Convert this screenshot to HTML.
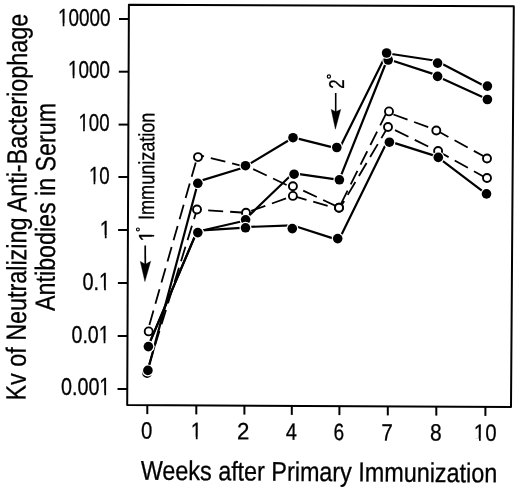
<!DOCTYPE html>
<html><head><meta charset="utf-8"><style>
html,body{margin:0;padding:0;background:#fff;}
body{width:520px;height:492px;overflow:hidden;}
svg{display:block;will-change:transform;}
text{font-family:"Liberation Sans", sans-serif;font-size:23.0px;fill:#000;stroke:#000;stroke-width:0.3px;stroke-linejoin:round;}
</style></head><body>
<svg width="520" height="492" viewBox="0 0 520 492">
<rect width="520" height="492" fill="#fff"/>
<g transform="translate(57.93,25.8) rotate(0) scale(0.8,1)"><text style="font-size:23.6px">10000</text><rect x="0.55" y="-2.36" width="5.39" height="3.96" fill="#fff"/><rect x="8.02" y="-2.36" width="5.20" height="3.96" fill="#fff"/></g>
<g transform="translate(67.98,78.0) rotate(0) scale(0.8011,1)"><text style="font-size:23.6px">1000</text><rect x="0.55" y="-2.36" width="5.39" height="3.96" fill="#fff"/><rect x="8.02" y="-2.36" width="5.20" height="3.96" fill="#fff"/></g>
<g transform="translate(78.41,131.0) rotate(0) scale(0.7904,1)"><text style="font-size:23.6px">100</text><rect x="0.53" y="-2.36" width="5.40" height="3.96" fill="#fff"/><rect x="8.02" y="-2.36" width="5.22" height="3.96" fill="#fff"/></g>
<g transform="translate(88.9,184.0) rotate(0) scale(0.7936,1)"><text style="font-size:23.6px">10</text><rect x="0.54" y="-2.36" width="5.40" height="3.96" fill="#fff"/><rect x="8.02" y="-2.36" width="5.21" height="3.96" fill="#fff"/></g>
<g transform="translate(99.78,237.5) rotate(0) scale(0.85,1)"><text style="font-size:23.6px">1</text><rect x="0.62" y="-2.36" width="5.31" height="3.96" fill="#fff"/><rect x="8.02" y="-2.36" width="5.13" height="3.96" fill="#fff"/></g>
<g transform="translate(82.52,290.0) rotate(0) scale(0.8439,1)"><text style="font-size:23.6px">0.1</text><rect x="20.29" y="-2.36" width="5.32" height="3.96" fill="#fff"/><rect x="27.70" y="-2.36" width="5.14" height="3.96" fill="#fff"/></g>
<g transform="translate(71.48,343.0) rotate(0) scale(0.8307,1)"><text style="font-size:23.6px">0.01</text><rect x="33.40" y="-2.36" width="5.34" height="3.96" fill="#fff"/><rect x="40.83" y="-2.36" width="5.16" height="3.96" fill="#fff"/></g>
<g transform="translate(60.93,395.4) rotate(0) scale(0.8372,1)"><text style="font-size:23.6px">0.001</text><rect x="46.54" y="-2.36" width="5.33" height="3.96" fill="#fff"/><rect x="53.95" y="-2.36" width="5.15" height="3.96" fill="#fff"/></g>
<g transform="translate(141.11,438.6) rotate(0.37) scale(0.8598,1)"><text style="font-size:23.6px">0</text></g>
<g transform="translate(190.78,439.0) rotate(0.37) scale(0.85,1)"><text style="font-size:23.6px">1</text><rect x="0.62" y="-2.36" width="5.31" height="3.96" fill="#fff"/><rect x="8.02" y="-2.36" width="5.13" height="3.96" fill="#fff"/></g>
<g transform="translate(237.08,439.3) rotate(0.37) scale(0.9394,1)"><text style="font-size:23.6px">2</text></g>
<g transform="translate(285.64,439.7) rotate(0.37) scale(0.8493,1)"><text style="font-size:23.6px">4</text></g>
<g transform="translate(333.53,440.1) rotate(0.37) scale(0.8081,1)"><text style="font-size:23.6px">6</text></g>
<g transform="translate(381.34,440.4) rotate(0.37) scale(0.8762,1)"><text style="font-size:23.6px">7</text></g>
<g transform="translate(429.99,440.6) rotate(0.37) scale(0.885,1)"><text style="font-size:23.6px">8</text></g>
<g transform="translate(473.84,440.8) rotate(0.37) scale(0.863,1)"><text style="font-size:23.6px">10</text><rect x="0.64" y="-2.36" width="5.30" height="3.96" fill="#fff"/><rect x="8.02" y="-2.36" width="5.11" height="3.96" fill="#fff"/></g>
<g transform="translate(154.1,241.43) rotate(-90) scale(0.85,1)"><text style="font-size:22.6px">1</text><rect x="0.55" y="-2.29" width="5.14" height="3.89" fill="#fff"/><rect x="7.68" y="-2.29" width="4.96" height="3.89" fill="#fff"/></g>
<g transform="translate(140.7,479.7) rotate(0.44) scale(0.859,1)"><text style="font-size:27.2px">Weeks after Primary Immunization</text></g>
<g transform="translate(25.6,400.48) rotate(-89.76) scale(0.8402,1)"><text style="font-size:27.8px">Kv of Neutralizing Anti-Bacteriophage</text></g>
<g transform="translate(54.7,310.9) rotate(-89.8) scale(0.836,1)"><text style="font-size:27.8px">Antibodies in Serum</text></g>
<g transform="translate(154.0,219.93) rotate(-89.76) scale(0.8132,1)"><text style="font-size:22.2px">Immunization</text></g>
<g transform="translate(343.9,88.69) rotate(-90) scale(0.79,1)"><text style="font-size:21.2px">2</text></g>
<polygon points="128.9,4.8 513.8,6.2 511.0,407.0 127.2,405.0" fill="none" stroke="#000" stroke-width="2.0" stroke-linejoin="round"/>
<line x1="119.0" y1="19.0" x2="128.8" y2="19.0" stroke="#000" stroke-width="2"/>
<line x1="118.8" y1="71.7" x2="128.6" y2="71.7" stroke="#000" stroke-width="2"/>
<line x1="118.6" y1="124.6" x2="128.4" y2="124.6" stroke="#000" stroke-width="2"/>
<line x1="118.4" y1="177.0" x2="128.2" y2="177.0" stroke="#000" stroke-width="2"/>
<line x1="118.1" y1="230.0" x2="127.9" y2="230.0" stroke="#000" stroke-width="2"/>
<line x1="117.9" y1="283.0" x2="127.7" y2="283.0" stroke="#000" stroke-width="2"/>
<line x1="117.7" y1="336.0" x2="127.5" y2="336.0" stroke="#000" stroke-width="2"/>
<line x1="117.5" y1="389.0" x2="127.3" y2="389.0" stroke="#000" stroke-width="2"/>
<line x1="147.3" y1="405.1" x2="147.3" y2="414.1" stroke="#000" stroke-width="2"/>
<line x1="196.3" y1="405.4" x2="196.3" y2="414.4" stroke="#000" stroke-width="2"/>
<line x1="244.4" y1="405.6" x2="244.4" y2="414.6" stroke="#000" stroke-width="2"/>
<line x1="291.8" y1="405.9" x2="291.8" y2="414.9" stroke="#000" stroke-width="2"/>
<line x1="339.4" y1="406.1" x2="339.4" y2="415.1" stroke="#000" stroke-width="2"/>
<line x1="387.8" y1="406.4" x2="387.8" y2="415.4" stroke="#000" stroke-width="2"/>
<line x1="436.3" y1="406.6" x2="436.3" y2="415.6" stroke="#000" stroke-width="2"/>
<line x1="485.4" y1="406.9" x2="485.4" y2="415.9" stroke="#000" stroke-width="2"/>
<circle cx="137.9" cy="229.4" r="1.45" fill="none" stroke="#000" stroke-width="1.1"/>
<circle cx="328.9" cy="76.5" r="1.6" fill="none" stroke="#000" stroke-width="1.2"/>
<line x1="145.2" y1="245.5" x2="145.3" y2="266" stroke="#000" stroke-width="1.7"/>
<polygon points="140.3,261.4 145.4,264.3 150.7,261.2 144.9,281.6" fill="#000" stroke="#000" stroke-width="0.4" stroke-linejoin="round"/>
<line x1="335.7" y1="93" x2="335.7" y2="113" stroke="#000" stroke-width="1.6"/>
<polygon points="331.2,109.4 335.7,111.8 340.7,109.4 335.4,129.2" fill="#000" stroke="#000" stroke-width="0.4" stroke-linejoin="round"/>
<line x1="147.90" y1="370.40" x2="197.80" y2="183.30" stroke="#000" stroke-width="2.2" stroke-linecap="round"/>
<line x1="197.80" y1="181.59" x2="245.50" y2="167.02" stroke="#000" stroke-width="2.2" stroke-linecap="round"/>
<line x1="245.50" y1="166.32" x2="293.00" y2="137.69" stroke="#000" stroke-width="2.2" stroke-linecap="round"/>
<line x1="293.00" y1="137.40" x2="336.80" y2="148.32" stroke="#000" stroke-width="2.2" stroke-linecap="round"/>
<line x1="339.96" y1="147.50" x2="386.87" y2="53.05" stroke="#000" stroke-width="2.2" stroke-linecap="round"/>
<line x1="386.65" y1="53.22" x2="437.60" y2="61.01" stroke="#000" stroke-width="2.2" stroke-linecap="round"/>
<line x1="437.60" y1="61.58" x2="487.40" y2="87.44" stroke="#000" stroke-width="2.2" stroke-linecap="round"/>
<line x1="148.00" y1="346.60" x2="196.45" y2="232.60" stroke="#000" stroke-width="2.2" stroke-linecap="round"/>
<line x1="197.80" y1="231.53" x2="245.60" y2="220.51" stroke="#000" stroke-width="2.2" stroke-linecap="round"/>
<line x1="245.60" y1="218.90" x2="294.10" y2="172.31" stroke="#000" stroke-width="2.2" stroke-linecap="round"/>
<line x1="294.10" y1="173.36" x2="339.40" y2="179.93" stroke="#000" stroke-width="2.2" stroke-linecap="round"/>
<line x1="339.27" y1="179.80" x2="387.08" y2="60.00" stroke="#000" stroke-width="2.2" stroke-linecap="round"/>
<line x1="388.20" y1="59.29" x2="437.60" y2="75.35" stroke="#000" stroke-width="2.2" stroke-linecap="round"/>
<line x1="437.60" y1="76.60" x2="487.40" y2="99.15" stroke="#000" stroke-width="2.2" stroke-linecap="round"/>
<line x1="148.00" y1="346.60" x2="196.45" y2="232.60" stroke="#000" stroke-width="2.2" stroke-linecap="round"/>
<line x1="197.80" y1="230.71" x2="245.50" y2="227.53" stroke="#000" stroke-width="2.2" stroke-linecap="round"/>
<line x1="245.50" y1="227.02" x2="292.30" y2="225.46" stroke="#000" stroke-width="2.2" stroke-linecap="round"/>
<line x1="292.30" y1="225.25" x2="337.70" y2="239.83" stroke="#000" stroke-width="2.2" stroke-linecap="round"/>
<line x1="339.59" y1="238.60" x2="386.82" y2="142.20" stroke="#000" stroke-width="2.2" stroke-linecap="round"/>
<line x1="389.40" y1="141.41" x2="438.30" y2="156.92" stroke="#000" stroke-width="2.2" stroke-linecap="round"/>
<line x1="438.30" y1="157.59" x2="486.50" y2="194.01" stroke="#000" stroke-width="2.2" stroke-linecap="round"/>
<line x1="147.52" y1="331.40" x2="197.31" y2="157.05" stroke="#000" stroke-width="1.8" stroke-dasharray="15.0 7.0" stroke-dashoffset="15.26"/>
<line x1="198.00" y1="154.77" x2="245.50" y2="166.85" stroke="#000" stroke-width="1.8" stroke-dasharray="15.0 7.0" stroke-dashoffset="8.78"/>
<line x1="245.50" y1="165.43" x2="292.90" y2="187.99" stroke="#000" stroke-width="1.8" stroke-dasharray="15.0 7.0" stroke-dashoffset="13.48"/>
<line x1="292.90" y1="185.77" x2="339.00" y2="207.42" stroke="#000" stroke-width="1.8" stroke-dasharray="15.0 7.0" stroke-dashoffset="10.59"/>
<line x1="339.05" y1="207.70" x2="387.20" y2="111.40" stroke="#000" stroke-width="1.8" stroke-dasharray="15.0 7.0" stroke-dashoffset="17.91"/>
<line x1="389.00" y1="112.86" x2="436.30" y2="130.07" stroke="#000" stroke-width="1.8" stroke-dasharray="15.0 7.0" stroke-dashoffset="17.28"/>
<line x1="436.30" y1="130.27" x2="487.00" y2="158.08" stroke="#000" stroke-width="1.8" stroke-dasharray="15.0 7.0" stroke-dashoffset="1.18"/>
<line x1="146.45" y1="373.00" x2="196.99" y2="209.50" stroke="#000" stroke-width="1.8" stroke-dasharray="15.0 7.0" stroke-dashoffset="14.93"/>
<line x1="197.00" y1="209.61" x2="246.00" y2="212.79" stroke="#000" stroke-width="1.8" stroke-dasharray="15.0 7.0" stroke-dashoffset="10.79"/>
<line x1="246.00" y1="212.72" x2="292.90" y2="196.01" stroke="#000" stroke-width="1.8" stroke-dasharray="15.0 7.0" stroke-dashoffset="16.48"/>
<line x1="292.90" y1="195.83" x2="339.00" y2="209.19" stroke="#000" stroke-width="1.8" stroke-dasharray="15.0 7.0" stroke-dashoffset="0.84"/>
<line x1="340.17" y1="207.70" x2="387.92" y2="127.00" stroke="#000" stroke-width="1.8" stroke-dasharray="15.0 7.0" stroke-dashoffset="7.14"/>
<line x1="388.00" y1="126.63" x2="438.10" y2="151.46" stroke="#000" stroke-width="1.8" stroke-dasharray="15.0 7.0" stroke-dashoffset="14.15"/>
<line x1="438.10" y1="151.31" x2="487.00" y2="178.45" stroke="#000" stroke-width="1.8" stroke-dasharray="15.0 7.0" stroke-dashoffset="2.98"/>
<circle cx="148.7" cy="331.4" r="4.0" fill="#fff" stroke="#000" stroke-width="1.9"/>
<circle cx="198.0" cy="157.1" r="4.0" fill="#fff" stroke="#000" stroke-width="1.9"/>
<circle cx="245.5" cy="165.7" r="4.0" fill="#fff" stroke="#000" stroke-width="1.9"/>
<circle cx="292.9" cy="186.2" r="4.0" fill="#fff" stroke="#000" stroke-width="1.9"/>
<circle cx="339.0" cy="207.7" r="4.0" fill="#fff" stroke="#000" stroke-width="1.9"/>
<circle cx="389.0" cy="111.4" r="4.0" fill="#fff" stroke="#000" stroke-width="1.9"/>
<circle cx="436.3" cy="130.5" r="4.0" fill="#fff" stroke="#000" stroke-width="1.9"/>
<circle cx="487.0" cy="158.5" r="4.0" fill="#fff" stroke="#000" stroke-width="1.9"/>
<circle cx="147.1" cy="373.0" r="4.0" fill="#fff" stroke="#000" stroke-width="1.9"/>
<circle cx="197.0" cy="209.5" r="4.0" fill="#fff" stroke="#000" stroke-width="1.9"/>
<circle cx="246.0" cy="212.8" r="4.0" fill="#fff" stroke="#000" stroke-width="1.9"/>
<circle cx="292.9" cy="195.9" r="4.0" fill="#fff" stroke="#000" stroke-width="1.9"/>
<circle cx="339.0" cy="207.7" r="4.0" fill="#fff" stroke="#000" stroke-width="1.9"/>
<circle cx="388.0" cy="127.0" r="4.0" fill="#fff" stroke="#000" stroke-width="1.9"/>
<circle cx="438.1" cy="151.0" r="4.0" fill="#fff" stroke="#000" stroke-width="1.9"/>
<circle cx="487.0" cy="178.0" r="4.0" fill="#fff" stroke="#000" stroke-width="1.9"/>
<circle cx="148.4" cy="346.6" r="6.00" fill="#fff"/>
<circle cx="148.4" cy="346.6" r="4.8" fill="#000"/>
<circle cx="197.8" cy="232.6" r="6.00" fill="#fff"/>
<circle cx="197.8" cy="232.6" r="4.8" fill="#000"/>
<circle cx="245.6" cy="219.8" r="6.00" fill="#fff"/>
<circle cx="245.6" cy="219.8" r="4.8" fill="#000"/>
<circle cx="294.1" cy="174.2" r="6.00" fill="#fff"/>
<circle cx="294.1" cy="174.2" r="4.8" fill="#000"/>
<circle cx="339.4" cy="179.8" r="6.00" fill="#fff"/>
<circle cx="339.4" cy="179.8" r="4.8" fill="#000"/>
<circle cx="388.2" cy="60.0" r="6.00" fill="#fff"/>
<circle cx="388.2" cy="60.0" r="4.8" fill="#000"/>
<circle cx="437.6" cy="76.4" r="6.00" fill="#fff"/>
<circle cx="437.6" cy="76.4" r="4.8" fill="#000"/>
<circle cx="487.4" cy="99.5" r="6.00" fill="#fff"/>
<circle cx="487.4" cy="99.5" r="4.8" fill="#000"/>
<circle cx="148.4" cy="346.6" r="6.00" fill="#fff"/>
<circle cx="148.4" cy="346.6" r="4.8" fill="#000"/>
<circle cx="197.8" cy="232.6" r="6.00" fill="#fff"/>
<circle cx="197.8" cy="232.6" r="4.8" fill="#000"/>
<circle cx="245.5" cy="227.8" r="6.00" fill="#fff"/>
<circle cx="245.5" cy="227.8" r="4.8" fill="#000"/>
<circle cx="292.3" cy="228.6" r="6.00" fill="#fff"/>
<circle cx="292.3" cy="228.6" r="4.8" fill="#000"/>
<circle cx="337.7" cy="238.6" r="6.00" fill="#fff"/>
<circle cx="337.7" cy="238.6" r="4.8" fill="#000"/>
<circle cx="389.4" cy="142.2" r="6.00" fill="#fff"/>
<circle cx="389.4" cy="142.2" r="4.8" fill="#000"/>
<circle cx="438.3" cy="157.4" r="6.00" fill="#fff"/>
<circle cx="438.3" cy="157.4" r="4.8" fill="#000"/>
<circle cx="486.5" cy="193.9" r="6.00" fill="#fff"/>
<circle cx="486.5" cy="193.9" r="4.8" fill="#000"/>
<circle cx="147.9" cy="370.4" r="6.00" fill="#fff"/>
<circle cx="147.9" cy="370.4" r="4.8" fill="#000"/>
<circle cx="197.8" cy="183.3" r="6.00" fill="#fff"/>
<circle cx="197.8" cy="183.3" r="4.8" fill="#000"/>
<circle cx="245.5" cy="165.7" r="6.00" fill="#fff"/>
<circle cx="245.5" cy="165.7" r="4.8" fill="#000"/>
<circle cx="293.0" cy="137.7" r="6.00" fill="#fff"/>
<circle cx="293.0" cy="137.7" r="4.8" fill="#000"/>
<circle cx="336.8" cy="147.5" r="6.00" fill="#fff"/>
<circle cx="336.8" cy="147.5" r="4.8" fill="#000"/>
<circle cx="386.6" cy="53.0" r="6.00" fill="#fff"/>
<circle cx="386.6" cy="53.0" r="4.8" fill="#000"/>
<circle cx="437.6" cy="63.1" r="6.00" fill="#fff"/>
<circle cx="437.6" cy="63.1" r="4.8" fill="#000"/>
<circle cx="487.4" cy="86.1" r="6.00" fill="#fff"/>
<circle cx="487.4" cy="86.1" r="4.8" fill="#000"/>
</svg>
</body></html>
